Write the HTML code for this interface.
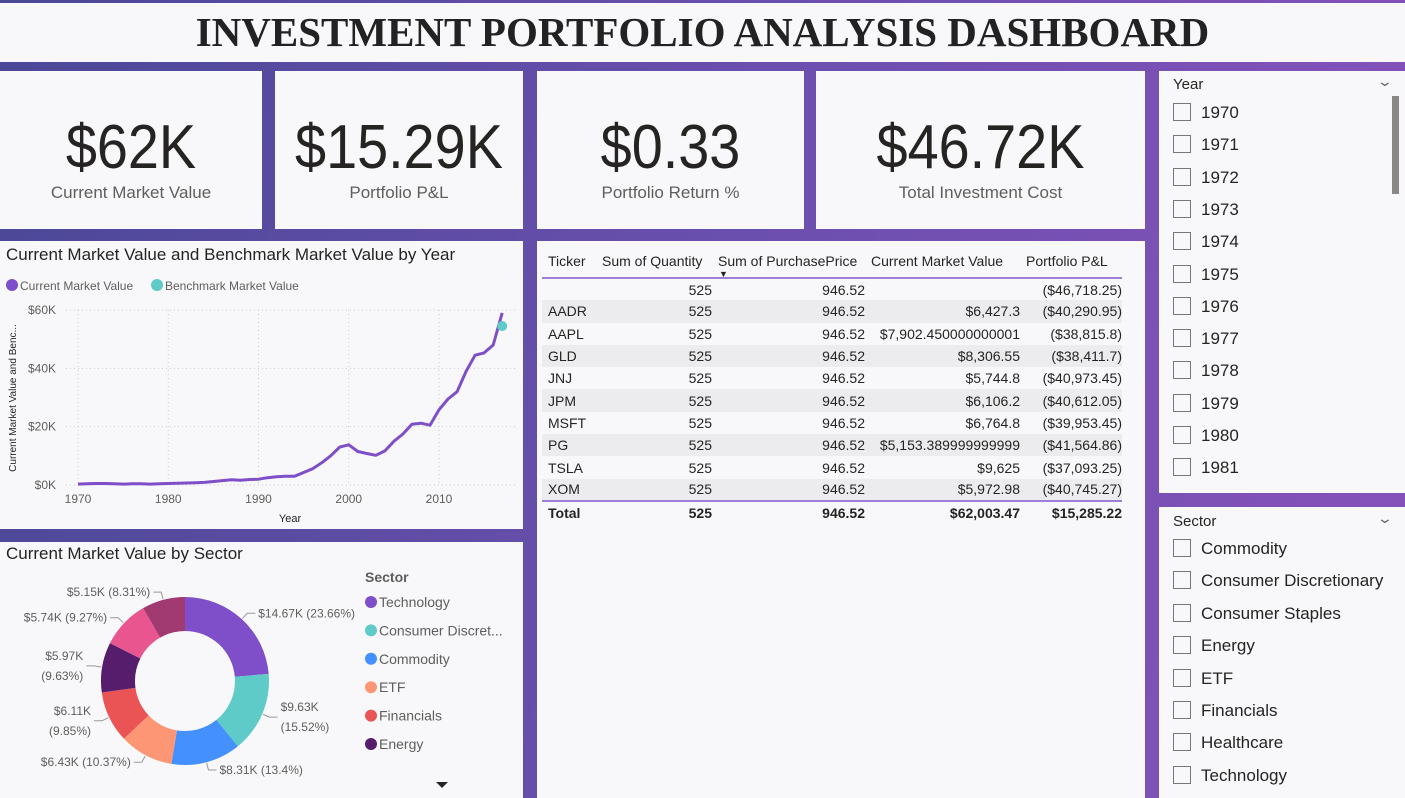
<!DOCTYPE html>
<html><head><meta charset="utf-8">
<style>
*{box-sizing:border-box;margin:0;padding:0}
body{width:1405px;height:798px;overflow:hidden;font-family:"Liberation Sans",sans-serif;background:linear-gradient(100deg,#4b4897 0%,#6a4fae 50%,#8752bb 100%);position:relative}
.panel{position:absolute;background:#f8f8fa}
.title{position:absolute;left:0;top:3px;width:1405px;height:59px;background:#f8f8fa;text-align:center;font-family:"Liberation Serif",serif;font-weight:bold;font-size:41px;line-height:59px;color:#222}
.kpi .v{position:absolute;left:0;right:0;top:42px;text-align:center;font-family:"Liberation Sans Narrow","Liberation Sans",sans-serif;font-size:62px;color:#252423;line-height:70px;transform:scaleX(0.9)}
.kpi .l{position:absolute;left:0;right:0;top:112px;text-align:center;font-size:17px;color:#605e5c}
table{border-collapse:collapse;font-size:14px;color:#252423}
.sl-h{position:absolute;left:14px;font-size:15px;color:#252423}
.item{position:absolute;left:14px;font-size:17px;color:#252423;height:20px;line-height:20px}
.item .cb{display:inline-block;width:18px;height:18px;border:1px solid #777;vertical-align:middle;margin-right:10px;margin-top:-3px}
</style></head><body>
<div class="title">INVESTMENT PORTFOLIO ANALYSIS DASHBOARD</div>

<div class="panel kpi" style="left:0;top:71px;width:262px;height:158px"><div class="v">$62K</div><div class="l">Current Market Value</div></div>
<div class="panel kpi" style="left:275px;top:71px;width:248px;height:158px"><div class="v">$15.29K</div><div class="l">Portfolio P&amp;L</div></div>
<div class="panel kpi" style="left:537px;top:71px;width:267px;height:158px"><div class="v">$0.33</div><div class="l">Portfolio Return %</div></div>
<div class="panel kpi" style="left:816px;top:71px;width:329px;height:158px"><div class="v">$46.72K</div><div class="l">Total Investment Cost</div></div>

<div class="panel" style="left:0;top:241px;width:523px;height:288px">
<svg id="line" width="523" height="288" style="position:absolute;left:0;top:0"></svg>
</div>

<div class="panel" style="left:0;top:542px;width:523px;height:256px">
<svg id="donut" width="523" height="256" style="position:absolute;left:0;top:0"></svg>
</div>

<div class="panel" style="left:537px;top:241px;width:608px;height:557px">
<table id="tbl" style="position:absolute;left:5px;top:4px;width:580px"></table>
</div>

<div class="panel" style="left:1159px;top:71px;width:246px;height:422px">
<div class="sl-h" style="top:5px">Year</div>
<div style="position:absolute;left:220px;top:2px;font-size:14px;color:#666;transform:scaleX(1.4)">&#8964;</div>
<div style="position:absolute;left:233px;top:25px;width:7px;height:98px;background:#8a8886"></div>
<div id="years"></div>
</div>

<div class="panel" style="left:1159px;top:507px;width:246px;height:291px">
<div class="sl-h" style="top:6px">Sector</div>
<div style="position:absolute;left:220px;top:3px;font-size:14px;color:#666;transform:scaleX(1.4)">&#8964;</div>
<div id="sectors"></div>
</div>

<script>
const NS="http://www.w3.org/2000/svg";
function mk(parent,tag,attrs,text){const e=document.createElementNS(NS,tag);for(const k in attrs)e.setAttribute(k,attrs[k]);if(text!==undefined)e.textContent=text;parent.appendChild(e);return e;}

// ---- line chart data ----
const years=[1970,1971,1972,1973,1974,1975,1976,1977,1978,1979,1980,1981,1982,1983,1984,1985,1986,1987,1988,1989,1990,1991,1992,1993,1994,1995,1996,1997,1998,1999,2000,2001,2002,2003,2004,2005,2006,2007,2008,2009,2010,2011,2012,2013,2014,2015,2016,2017];
const marketValues=[300,400,500,500,400,300,400,400,300,400,500,600,700,800,900,1200,1500,1800,1600,1900,2000,2500,2800,3000,3000,4300,5600,7600,10000,13000,13800,11500,10800,10200,11700,15000,17500,20800,21200,20500,25800,29500,32000,39000,44500,45300,48000,59000];
const benchmarkYears=[2017];
const benchmarkValues=[54500];
const yTicks=[0,20000,40000,60000];
const yTickLabels=["$0K","$20K","$40K","$60K"];
const xTicks=[1970,1980,1990,2000,2010];

(function(){
const svg=document.getElementById('line');
const X=y=>78+(y-1970)*9.025, Y=v=>244-v/60000*175;
let t=mk(svg,'text',{x:6,y:19,'font-size':17,fill:'#252423'},'Current Market Value and Benchmark Market Value by Year');

let g=mk(svg,'g',{});
mk(g,'circle',{cx:12,cy:44,r:6,fill:'#7f4fc9'});
mk(g,'text',{x:20,y:49,'font-size':12,fill:'#605e5c'},'Current Market Value');
mk(g,'circle',{cx:157,cy:44,r:6,fill:'#5ecbc8'});
mk(g,'text',{x:165,y:49,'font-size':12,fill:'#605e5c'},'Benchmark Market Value');
yTicks.forEach((v,i)=>{
 let l=mk(svg,'line',{x1:66,x2:515,y1:Y(v),y2:Y(v),stroke:'#ccc','stroke-dasharray':'1 3'});
 
 let tx=mk(svg,'text',{x:56,y:Y(v)+4,'font-size':12,fill:'#605e5c','text-anchor':'end'},yTickLabels[i]);
 
});
xTicks.forEach(v=>{
 let l=mk(svg,'line',{x1:X(v),x2:X(v),y1:Y(60000),y2:Y(0),stroke:'#ccc','stroke-dasharray':'1 3'});
 
 let tx=mk(svg,'text',{x:X(v),y:262,'font-size':12,fill:'#605e5c','text-anchor':'middle'},v);
 
});
let xt=mk(svg,'text',{x:290,y:281,'font-size':11,fill:'#252423','text-anchor':'middle'},'Year');

let yt=mk(svg,'text',{x:0,y:0,'font-size':10,fill:'#252423','text-anchor':'middle',transform:'translate(16,157) rotate(-90)'},'Current Market Value and Benc...');

let p=mk(svg,'path',{d:years.map((y,i)=>(i?'L':'M')+X(y).toFixed(1)+','+Y(marketValues[i]).toFixed(1)).join(''),fill:'none',stroke:'#7f4fc9','stroke-width':3,'stroke-linejoin':'round'});

benchmarkYears.forEach((y,i)=>{
 let c=mk(svg,'circle',{cx:X(y),cy:Y(benchmarkValues[i]),r:5,fill:'#5ecbc8'});
 
});
})();

// ---- donut data ----
const sectorNames=["Technology","Consumer Discretionary","Commodity","ETF","Financials","Energy","Consumer Staples","Healthcare"];
const sectorValues=[14.67,9.63,8.31,6.43,6.11,5.97,5.74,5.15];
const sectorLabels=["$14.67K (23.66%)","$9.63K|(15.52%)","$8.31K (13.4%)","$6.43K (10.37%)","$6.11K|(9.85%)","$5.97K|(9.63%)","$5.74K (9.27%)","$5.15K (8.31%)"];
const sectorColors=["#7f4fc9","#5ecbc8","#4490ff","#fd9675","#ea5454","#561d6d","#e8558f","#a03a70"];
const legendNames=["Technology","Consumer Discret...","Commodity","ETF","Financials","Energy"];

(function(){
const svg=document.getElementById('donut');
const cx=185,cy=139,R=84,r=50;
let t=mk(svg,'text',{x:6,y:17,'font-size':17,fill:'#252423'},'Current Market Value by Sector');

const tot=sectorValues.reduce((a,b)=>a+b,0);
let a0=0;
const pt=(a,rad)=>[cx+rad*Math.sin(a),cy-rad*Math.cos(a)];
sectorValues.forEach((v,i)=>{
 const a1=a0+v/tot*2*Math.PI, lg=(a1-a0)>Math.PI?1:0;
 const [x0,y0]=pt(a0,R),[x1,y1]=pt(a1,R),[x2,y2]=pt(a1,r),[x3,y3]=pt(a0,r);
 let s=mk(svg,'path',{d:`M${x0},${y0}A${R},${R} 0 ${lg} 1 ${x1},${y1}L${x2},${y2}A${r},${r} 0 ${lg} 0 ${x3},${y3}Z`,fill:sectorColors[i]});
 
 const am=(a0+a1)/2,right=Math.sin(am)>=0;
 const [ex,ey]=pt(am,R+1),[fx,fy]=pt(am,R+8);
 const hx=fx+(right?8:-8);
 let ll=mk(svg,'polyline',{points:`${ex},${ey} ${fx},${fy} ${hx},${fy}`,fill:'none',stroke:'#999','stroke-width':1});
 
 const parts=sectorLabels[i].split('|');
 parts.forEach((p,k)=>{
  let tx=mk(svg,'text',{x:hx+(right?3:-3),y:fy+4+(k-(parts.length-1)/2)*20,'font-size':12,fill:'#605e5c','text-anchor':right?'start':'end'},p);
  
 });
 a0=a1;
});
let lh=mk(svg,'text',{x:365,y:40,'font-size':14,'font-weight':'bold',fill:'#605e5c'},'Sector');

legendNames.forEach((n,i)=>{
 let g=mk(svg,'g',{});
 mk(g,'circle',{cx:371,cy:60+i*28.4,r:6,fill:sectorColors[i]});
 mk(g,'text',{x:379,y:65+i*28.4,'font-size':14,fill:'#605e5c'},n);
});
let ar=mk(svg,'path',{d:'M436,240 L448,240 L442,246 Z',fill:'#252423'});

})();

// ---- table ----
const tickers=["","AADR","AAPL","GLD","JNJ","JPM","MSFT","PG","TSLA","XOM"];
const qty=["525","525","525","525","525","525","525","525","525","525"];
const price=["946.52","946.52","946.52","946.52","946.52","946.52","946.52","946.52","946.52","946.52"];
const cmv=["","$6,427.3","$7,902.450000000001","$8,306.55","$5,744.8","$6,106.2","$6,764.8","$5,153.389999999999","$9,625","$5,972.98"];
const pl=["($46,718.25)","($40,290.95)","($38,815.8)","($38,411.7)","($40,973.45)","($40,612.05)","($39,953.45)","($41,564.86)","($37,093.25)","($40,745.27)"];
(function(){
const tb=document.getElementById('tbl');
const ws=[54,116,153,155,102];
let h='<tr style="height:33px;border-bottom:2px solid #9c7fd6">';
const hd=["Ticker","Sum of Quantity","Sum of PurchasePrice","Current Market Value","Portfolio P&amp;L"];
hd.forEach((x,i)=>{h+=`<th style="width:${ws[i]}px;font-weight:normal;text-align:left;padding:0 0 0 6px;white-space:nowrap;vertical-align:middle;position:relative">${x}${i==2?'<span style="position:absolute;left:7px;top:24px;font-size:9px">&#9660;</span>':''}</th>`;});
h+='</tr>';
tickers.forEach((tk,i)=>{
 h+=`<tr style="height:22.3px;background:${i%2?'#ececee':'#f8f8fa'}"><td style="padding-left:6px">${tk}</td><td style="text-align:right">${qty[i]}</td><td style="text-align:right">${price[i]}</td><td style="text-align:right;white-space:nowrap;padding-left:4px">${cmv[i]}</td><td style="text-align:right;white-space:nowrap">${pl[i]}</td></tr>`;
});
h+='<tr style="height:24px;font-weight:bold;border-top:2px solid #9c7fd6"><td style="padding-left:6px">Total</td><td style="text-align:right">525</td><td style="text-align:right">946.52</td><td style="text-align:right">$62,003.47</td><td style="text-align:right">$15,285.22</td></tr>';
tb.innerHTML=h;
})();

// ---- slicers ----
const yearItems=["1970","1971","1972","1973","1974","1975","1976","1977","1978","1979","1980","1981"];
const sectorItems=["Commodity","Consumer Discretionary","Consumer Staples","Energy","ETF","Financials","Healthcare","Technology"];
(function(){
const yc=document.getElementById('years');
yearItems.forEach((y,i)=>{
 const d=document.createElement('div');d.className='item';d.style.top=(32+i*32.3)+'px';
 d.innerHTML='<span class="cb"></span>'+y;
 
 
 yc.appendChild(d);
});
const sc=document.getElementById('sectors');
sectorItems.forEach((y,i)=>{
 const d=document.createElement('div');d.className='item';d.style.top=(32+i*32.4)+'px';
 d.innerHTML='<span class="cb"></span>'+y;
 
 
 sc.appendChild(d);
});
})();
</script>
</body></html>
